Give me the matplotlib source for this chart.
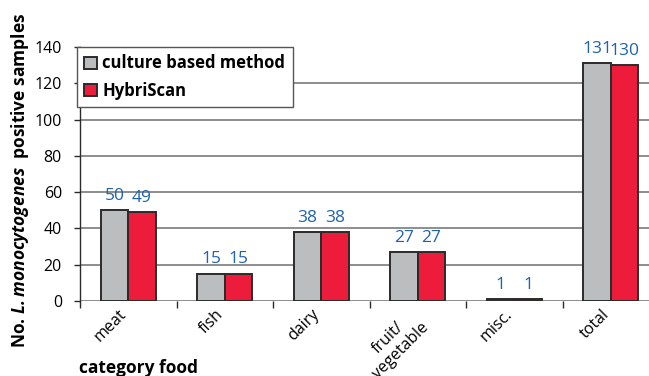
import numpy as np
import matplotlib.pyplot as plt
from matplotlib.transforms import ScaledTranslation

# data
categories = ['meat', 'fish', 'dairy', 'fruit/\nvegetable', 'misc.', 'total']
culture = [50, 15, 38, 27, 1, 131]
hybriscan = [49, 15, 38, 27, 1, 130]
yticks = [0, 20, 40, 60, 80, 100, 120, 140]

plt.rcParams['font.family'] = ['Open Sans', 'DejaVu Sans']
plt.rcParams['mathtext.fontset'] = 'custom'
plt.rcParams['mathtext.bfit'] = 'Open Sans:bold:italic'
plt.rcParams['mathtext.bf'] = 'Open Sans:bold'
plt.rcParams['mathtext.rm'] = 'Open Sans'

grey = '#bcbdbf'
red = '#ee1c3b'
edge = '#2b2b2b'
blue = '#1f63ae'

fig = plt.figure(figsize=(6.49, 3.76), dpi=100)
# axes runs past the right edge of the picture, like the cropped original
ax = fig.add_axes([80 / 649, 75 / 376, 6 * 96.5 / 649, 254 / 376])

x = np.arange(len(categories))
w = 0.285
b1 = ax.bar(x - w / 2, culture, w, color=grey, edgecolor=edge, linewidth=1.4,
            label='culture based method', zorder=3)
b2 = ax.bar(x + w / 2, hybriscan, w, color=red, edgecolor=edge, linewidth=1.4,
            label='HybriScan', zorder=3)

for bars, vals in ((b1, culture), (b2, hybriscan)):
    for r, v in zip(bars, vals):
        ax.annotate(str(v), (r.get_x() + r.get_width() / 2, v),
                    xytext=(0, 7.5), textcoords='offset points', ha='center',
                    va='baseline', color=blue, fontsize=12.5)

ax.set_xlim(-0.5, len(categories) - 0.5)
ax.set_ylim(0, 140)
ax.set_yticks(yticks)
ax.tick_params(axis='y', labelsize=11.5, length=4, width=1, color=edge, pad=9)
ax.yaxis.grid(True, color='#7a7a7a', linewidth=1.2, zorder=0)
ax.get_ygridlines()[-1].set_visible(False)
ax.set_axisbelow(True)

# category ticks sit between groups, labels at group centres
ax.set_xticks(np.arange(len(categories) + 1) - 0.5)
ax.set_xticklabels([])
ax.tick_params(axis='x', length=5, width=1, color=edge)
ax.set_xticks(x, minor=True)
ax.set_xticklabels(categories, minor=True, rotation=45, ha='right',
                   rotation_mode='anchor', fontsize=11.5,
                   multialignment='center')
ax.tick_params(axis='x', which='minor', length=0, pad=4)
shift = ScaledTranslation(-7 / 72, 0, fig.dpi_scale_trans)
for lab in ax.get_xticklabels(minor=True):
    lab.set_transform(lab.get_transform() + shift)

for s in ('top', 'right', 'bottom'):
    ax.spines[s].set_visible(False)
ax.spines['left'].set_color(edge)
ax.spines['left'].set_linewidth(1)

fig.text(20 / 649, 196 / 376,
         r'No. $\mathbfit{L.monocytogenes}$  positive samples',
         rotation=90, ha='center', va='center', fontsize=12.5,
         fontweight='bold')
fig.text(79 / 649, 8 / 376, 'category food', fontsize=12.5, fontweight='bold',
         ha='left', va='center')

leg = ax.legend(loc='upper left', bbox_to_anchor=(-0.006, 1.0),
                prop={'weight': 'bold', 'size': 12}, fancybox=False,
                framealpha=1, edgecolor='#555555', handlelength=0.75,
                handleheight=0.75, handletextpad=0.35, borderpad=0.45,
                labelspacing=0.55, borderaxespad=0)
leg.get_frame().set_linewidth(1)

fig.savefig('out.png', dpi=100)
